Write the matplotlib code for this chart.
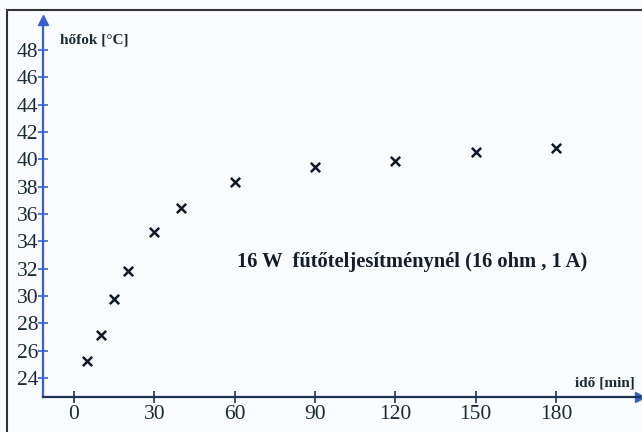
import matplotlib.pyplot as plt
from matplotlib.patches import Rectangle

# ido [min] es hofok [C]
ido = [5, 10, 15, 20, 30, 40, 60, 90, 120, 150, 180]
hofok = [25.2, 27.15, 29.75, 31.8, 34.7, 36.45, 38.35, 39.45, 39.9, 40.5, 40.85]
xtickek = [0, 30, 60, 90, 120, 150, 180]
ytickek = [24, 26, 28, 30, 32, 34, 36, 38, 40, 42, 44, 46, 48]

plt.rcParams['font.family'] = ['Liberation Serif', 'DejaVu Serif']

kek = '#3a5fcd'
sotet = '#1f3355'

fig = plt.figure(figsize=(6.42, 4.32), dpi=100)
fig.patch.set_facecolor('#fafbfe')

# keret a kep korul
fig.patches.append(Rectangle((7 / 642, -0.1), 1.2, (432 - 10) / 432 + 0.1,
                             transform=fig.transFigure, fill=False,
                             edgecolor='#333333', linewidth=1.5))

ax = fig.add_axes([43 / 642, 35 / 432, 597 / 642, 377 / 432])
ax.set_facecolor('#fafbfe')
ax.set_xlim(-11.6, 211.4)
ax.set_ylim(22.6, 50.2)

for s in ['top', 'right']:
    ax.spines[s].set_visible(False)
ax.spines['left'].set_color(kek)
ax.spines['left'].set_linewidth(1.6)
ax.spines['bottom'].set_color(sotet)
ax.spines['bottom'].set_linewidth(1.6)

# nyilak a tengelyek vegen
ax.plot(1, 0, '>', color=kek, markersize=7, transform=ax.transAxes, clip_on=False)
ax.plot(0, 1, '^', color=kek, markersize=7, transform=ax.transAxes, clip_on=False)

ax.scatter(ido, hofok, marker='x', s=45, color='#111a2a', linewidths=1.8, zorder=3)

ax.set_xticks(xtickek)
ax.set_yticks(ytickek)
ax.tick_params(axis='x', direction='inout', length=8, width=1.2, color=sotet,
               labelsize=15.5, labelcolor='#1a2a35', pad=2)
ax.tick_params(axis='y', direction='inout', length=7, width=1.2, color=kek,
               labelsize=15.5, labelcolor='#1a2a35', pad=0)

ax.text(60 / 642, 1 - 40 / 432, 'hőfok [°C]', transform=fig.transFigure,
        fontsize=11, fontweight='bold', color='#1a2a35', va='center', ha='left')
ax.text(635 / 642, 1 - 383 / 432, 'idő [min]', transform=fig.transFigure,
        fontsize=11, fontweight='bold', color='#1a2a35', va='center', ha='right')
ax.text(237 / 642, 1 - 262 / 432, '16 W  fűtőteljesítménynél (16 ohm , 1 A)',
        transform=fig.transFigure, fontsize=14.8, fontweight='bold',
        color='#151d2a', va='center', ha='left')

fig.savefig('out.png', dpi=100, facecolor=fig.get_facecolor())
